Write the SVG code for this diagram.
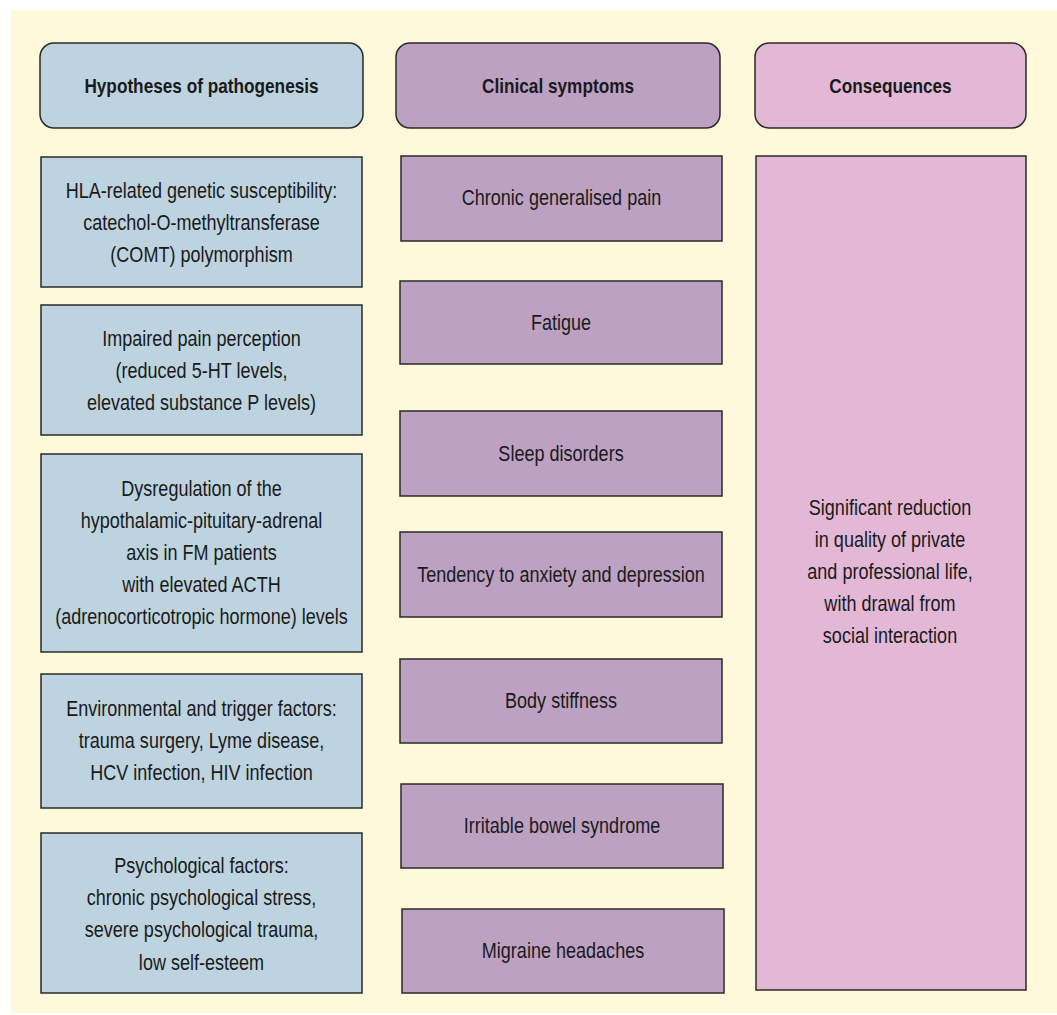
<svg xmlns="http://www.w3.org/2000/svg" width="1057" height="1015" viewBox="0 0 1057 1015">
<style>
text{font-family:"Liberation Sans",Arial,sans-serif;font-size:22px;fill:#1a1a1a;text-anchor:middle}
.h{font-weight:bold;font-size:21px}
.box{stroke:#2a2a2a;stroke-width:1.5}
.blue{fill:#BDD3DF}
.purple{fill:#BDA1C2}
.pink{fill:#E3B8D6}
</style>
<rect x="0" y="0" width="1057" height="1015" fill="#ffffff"/>
<rect x="11" y="10" width="1046" height="1003" fill="#FFF9DC"/>
<g id="header-hypotheses">
<rect class="box blue" x="40" y="43" width="323" height="85" rx="14"/>
<g transform="matrix(0.82 0 0 1 201.5 0)"><text class="h" x="0" y="93">Hypotheses of pathogenesis</text></g>
</g>
<g id="header-symptoms">
<rect class="box purple" x="396" y="43" width="324" height="85" rx="14"/>
<g transform="matrix(0.82 0 0 1 558 0)"><text class="h" x="0" y="93">Clinical symptoms</text></g>
</g>
<g id="header-consequences">
<rect class="box pink" x="755" y="43" width="271" height="85" rx="14"/>
<g transform="matrix(0.82 0 0 1 890.5 0)"><text class="h" x="0" y="93">Consequences</text></g>
</g>
<g id="hyp-1">
<rect class="box blue" x="41" y="157" width="321" height="130"/>
<g transform="matrix(0.82 0 0 1 201.5 0)">
<text x="0" y="198">HLA-related genetic susceptibility:</text>
<text x="0" y="230">catechol-O-methyltransferase</text>
<text x="0" y="262">(COMT) polymorphism</text>
</g>
</g>
<g id="hyp-2">
<rect class="box blue" x="41" y="305" width="321" height="130"/>
<g transform="matrix(0.82 0 0 1 201.5 0)">
<text x="0" y="346">Impaired pain perception</text>
<text x="0" y="378">(reduced 5-HT levels,</text>
<text x="0" y="410">elevated substance P levels)</text>
</g>
</g>
<g id="hyp-3">
<rect class="box blue" x="41" y="454" width="321" height="198"/>
<g transform="matrix(0.82 0 0 1 201.5 0)">
<text x="0" y="496.5">Dysregulation of the</text>
<text x="0" y="528.5">hypothalamic-pituitary-adrenal</text>
<text x="0" y="560.5">axis in FM patients</text>
<text x="0" y="592.5">with elevated ACTH</text>
<text x="0" y="624.5">(adrenocorticotropic hormone) levels</text>
</g>
</g>
<g id="hyp-4">
<rect class="box blue" x="41" y="674" width="321" height="134"/>
<g transform="matrix(0.82 0 0 1 201.5 0)">
<text x="0" y="716.5">Environmental and trigger factors:</text>
<text x="0" y="748.5">trauma surgery, Lyme disease,</text>
<text x="0" y="780.5">HCV infection, HIV infection</text>
</g>
</g>
<g id="hyp-5">
<rect class="box blue" x="41" y="833" width="321" height="160"/>
<g transform="matrix(0.82 0 0 1 201.5 0)">
<text x="0" y="873">Psychological factors:</text>
<text x="0" y="905">chronic psychological stress,</text>
<text x="0" y="937.5">severe psychological trauma,</text>
<text x="0" y="970">low self-esteem</text>
</g>
</g>
<g id="sym-1">
<rect class="box purple" x="401" y="156" width="321" height="85"/>
<g transform="matrix(0.82 0 0 1 561.5 0)"><text x="0" y="205">Chronic generalised pain</text></g>
</g>
<g id="sym-2">
<rect class="box purple" x="400" y="281" width="322" height="83"/>
<g transform="matrix(0.82 0 0 1 561 0)"><text x="0" y="330">Fatigue</text></g>
</g>
<g id="sym-3">
<rect class="box purple" x="400" y="411" width="322" height="85"/>
<g transform="matrix(0.82 0 0 1 561 0)"><text x="0" y="461">Sleep disorders</text></g>
</g>
<g id="sym-4">
<rect class="box purple" x="400" y="532" width="322" height="85"/>
<g transform="matrix(0.82 0 0 1 561 0)"><text x="0" y="582">Tendency to anxiety and depression</text></g>
</g>
<g id="sym-5">
<rect class="box purple" x="400" y="659" width="322" height="84"/>
<g transform="matrix(0.82 0 0 1 561 0)"><text x="0" y="708">Body stiffness</text></g>
</g>
<g id="sym-6">
<rect class="box purple" x="401" y="784" width="322" height="84"/>
<g transform="matrix(0.82 0 0 1 562 0)"><text x="0" y="833">Irritable bowel syndrome</text></g>
</g>
<g id="sym-7">
<rect class="box purple" x="402" y="909" width="322" height="84"/>
<g transform="matrix(0.82 0 0 1 563 0)"><text x="0" y="958">Migraine headaches</text></g>
</g>
<g id="consequence">
<rect class="box pink" x="756" y="156" width="270" height="834"/>
<g transform="matrix(0.82 0 0 1 890 0)">
<text x="0" y="515">Significant reduction</text>
<text x="0" y="547">in quality of private</text>
<text x="0" y="579">and professional life,</text>
<text x="0" y="611">with drawal from</text>
<text x="0" y="643">social interaction</text>
</g>
</g>
<g id="connectors"/>
</svg>
